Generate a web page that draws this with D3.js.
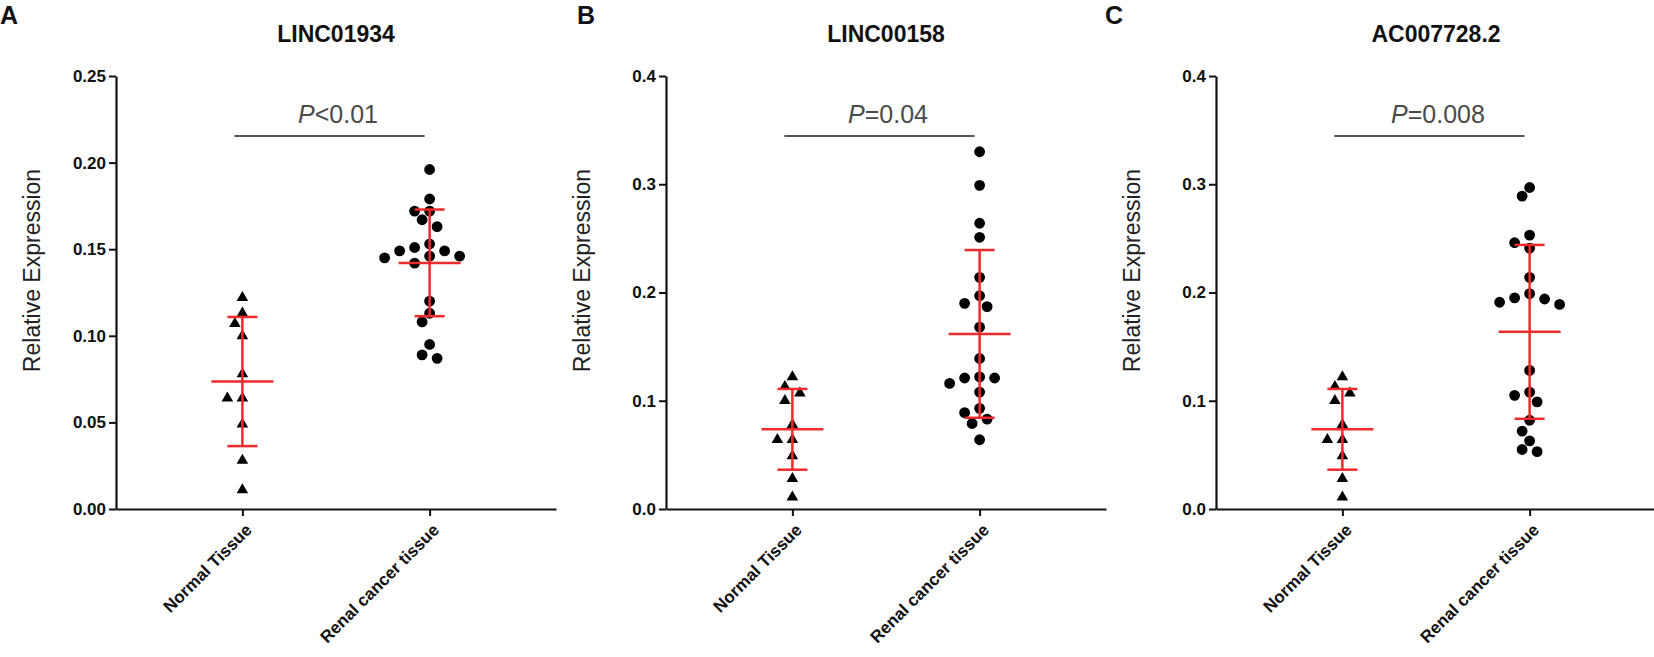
<!DOCTYPE html>
<html>
<head>
<meta charset="utf-8">
<script src="https://cdn.jsdelivr.net/npm/d3@7"></script>
<style>
  body { margin: 0; background: #fff; }
  text { font-family: "Liberation Sans", Arial, sans-serif; }
</style>
</head>
<body>
<div id="chart"></div>
<script>
// values
var categories = ["Normal Tissue", "Renal cancer tissue"];
var genes = ["LINC01934", "LINC00158", "AC007728.2"];
var panelLetters = ["A", "B", "C"];
var pOps = ["<", "=", "="];
var pValues = ["0.01", "0.04", "0.008"];
var yMax = [0.25, 0.4, 0.4];
var yTicksA = [0, 0.05, 0.10, 0.15, 0.20, 0.25];
var yTicksBC = [0, 0.1, 0.2, 0.3, 0.4];

// normal tissue is the same set in all three panels
var normalTissue = [0.122, 0.113, 0.107, 0.100, 0.078, 0.064, 0.064, 0.049, 0.028, 0.011];

var cancerLINC01934 = [0.196, 0.179, 0.172, 0.172, 0.167, 0.163, 0.153, 0.151, 0.149, 0.149,
                       0.146, 0.146, 0.145, 0.142, 0.120, 0.113, 0.108, 0.095, 0.089, 0.087];
var cancerLINC00158 = [0.330, 0.299, 0.264, 0.251, 0.214, 0.197, 0.190, 0.187, 0.168, 0.139,
                       0.122, 0.121, 0.121, 0.116, 0.108, 0.093, 0.089, 0.083, 0.079, 0.064];
var cancerAC007728 = [0.297, 0.289, 0.253, 0.246, 0.241, 0.214, 0.199, 0.195, 0.194, 0.191,
                      0.189, 0.128, 0.108, 0.105, 0.099, 0.082, 0.072, 0.063, 0.055, 0.053];

var cancerSets = [cancerLINC01934, cancerLINC00158, cancerAC007728];
var tickSets = [yTicksA, yTicksBC, yTicksBC];
var tickFormats = [d3.format(".2f"), d3.format(".1f"), d3.format(".1f")];

var W = 1654, H = 657;
var red = "#f02a2a";
var svg = d3.select("#chart").append("svg")
  .attr("width", W).attr("height", H)
  .style("background", "#fff");

// simple grid beeswarm so dots don't overlap
function swarm(vals, y, step, minDist) {
  var order = vals.map(function (v, i) { return i; })
    .sort(function (a, b) { return vals[b] - vals[a]; });
  var placed = [], dx = new Array(vals.length);
  order.forEach(function (i) {
    var py = y(vals[i]);
    for (var k = 0; k < 30; k++) {
      var c = k === 0 ? 0 : (k % 2 ? -1 : 1) * Math.ceil(k / 2) * step;
      var ok = placed.every(function (p) { return Math.hypot(p.x - c, p.y - py) >= minDist; });
      if (ok) { dx[i] = c; placed.push({ x: c, y: py }); break; }
    }
  });
  return dx;
}

function drawPanel(idx) {
  var ox = 116 + idx * 550;
  var g = svg.append("g").attr("transform", "translate(" + ox + ",0)");
  var top = 76, bottom = 509, axisLen = 440;

  var y = d3.scaleLinear().domain([0, yMax[idx]]).range([bottom, top]);
  var x = d3.scalePoint().domain(categories).range([0, axisLen]).padding(0.675);

  // y axis
  var yAxis = g.append("g")
    .call(d3.axisLeft(y).tickValues(tickSets[idx]).tickFormat(tickFormats[idx])
      .tickSize(7).tickSizeOuter(0));
  yAxis.select(".domain").attr("stroke", "#111").attr("stroke-width", 2.2);
  yAxis.selectAll(".tick line").attr("stroke", "#111").attr("stroke-width", 2);
  yAxis.selectAll(".tick text")
    .attr("x", -10)
    .attr("fill", "#111")
    .style("font-size", "17px").style("font-weight", "bold")
    .style("font-family", "'Liberation Sans', Arial, sans-serif");

  // x axis
  var xAxis = g.append("g").attr("transform", "translate(0," + bottom + ")")
    .call(d3.axisBottom(x).tickSize(7).tickSizeOuter(0));
  xAxis.select(".domain").attr("stroke", "#111").attr("stroke-width", 2.2);
  xAxis.selectAll(".tick line").attr("stroke", "#111").attr("stroke-width", 2);
  xAxis.selectAll(".tick text")
    .attr("fill", "#111")
    .style("font-size", "17px").style("font-weight", "bold")
    .style("font-family", "'Liberation Sans', Arial, sans-serif")
    .attr("text-anchor", "end")
    .attr("x", 0).attr("y", 0).attr("dy", 0)
    .attr("transform", "translate(10,22) rotate(-45)");

  // axis title
  g.append("text")
    .attr("transform", "translate(-76," + ((top + bottom) / 2 - 22) + ") rotate(-90)")
    .attr("text-anchor", "middle")
    .attr("fill", "#222")
    .style("font-size", "23px")
    .text("Relative Expression");

  // gene title
  var mid = (x(categories[0]) + x(categories[1])) / 2;
  g.append("text")
    .attr("x", mid).attr("y", 42)
    .attr("text-anchor", "middle")
    .attr("fill", "#111")
    .style("font-size", "23px").style("font-weight", "bold")
    .text(genes[idx]);

  // significance bar
  g.append("line")
    .attr("x1", x(categories[0]) - 8).attr("x2", x(categories[1]) - 5)
    .attr("y1", 136).attr("y2", 136)
    .attr("stroke", "#555").attr("stroke-width", 2);
  var pt = g.append("text")
    .attr("x", mid + 2).attr("y", 123)
    .attr("text-anchor", "middle")
    .attr("fill", "#4a4a4a")
    .style("font-size", "25px");
  pt.append("tspan").style("font-style", "italic").text("P");
  pt.append("tspan").text(pOps[idx] + pValues[idx]);

  // dots
  var groups = [
    { cat: categories[0], vals: normalTissue, sym: d3.symbolTriangle, size: 58 },
    { cat: categories[1], vals: cancerSets[idx], sym: d3.symbolCircle, size: 92 }
  ];
  groups.forEach(function (grp) {
    var cx = x(grp.cat);
    var dx = swarm(grp.vals, y, 7.5, 11);
    g.append("g").selectAll("path")
      .data(grp.vals)
      .enter().append("path")
      .attr("d", d3.symbol().type(grp.sym).size(grp.size))
      .attr("transform", function (d, i) {
        return "translate(" + (cx + dx[i]) + "," + y(d) + ")";
      })
      .attr("fill", "#000");

    // mean +/- SD
    var m = d3.mean(grp.vals), sd = d3.deviation(grp.vals);
    var eb = g.append("g").attr("stroke", red).attr("stroke-width", 2.5);
    eb.append("line").attr("x1", cx).attr("x2", cx).attr("y1", y(m + sd)).attr("y2", y(m - sd));
    eb.append("line").attr("x1", cx - 31).attr("x2", cx + 31).attr("y1", y(m)).attr("y2", y(m));
    eb.append("line").attr("x1", cx - 15).attr("x2", cx + 15).attr("y1", y(m + sd)).attr("y2", y(m + sd));
    eb.append("line").attr("x1", cx - 15).attr("x2", cx + 15).attr("y1", y(m - sd)).attr("y2", y(m - sd));
  });
}

[0, 1, 2].forEach(drawPanel);

// panel letters
var letterX = [0, 577, 1105];
svg.selectAll(".letter")
  .data(panelLetters)
  .enter().append("text")
  .attr("class", "letter")
  .attr("x", function (d, i) { return letterX[i]; })
  .attr("y", 24)
  .attr("fill", "#111")
  .style("font-size", "25px").style("font-weight", "bold")
  .text(function (d) { return d; });
</script>
</body>
</html>
